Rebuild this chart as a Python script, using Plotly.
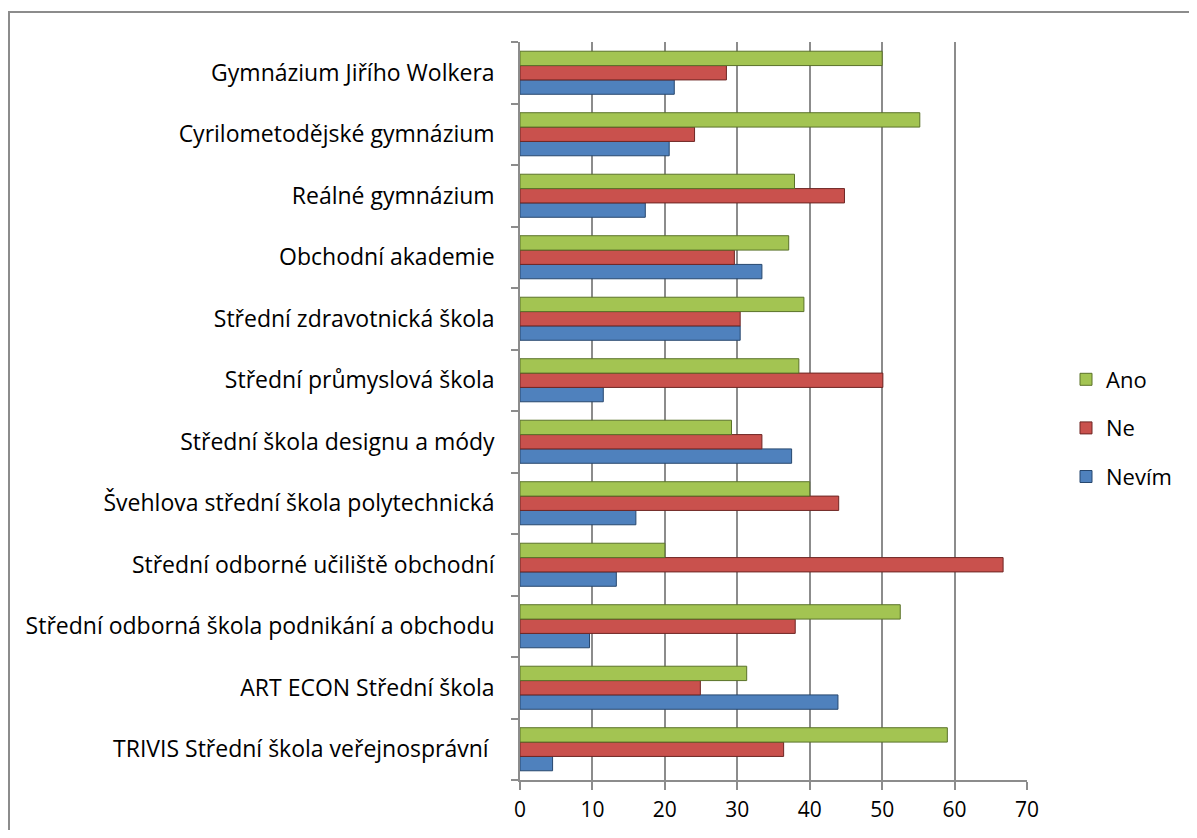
import plotly.graph_objects as go

# categories, top to bottom as in the chart
schools = [
    "Gymnázium Jiřího Wolkera",
    "Cyrilometodějské gymnázium",
    "Reálné gymnázium",
    "Obchodní akademie",
    "Střední zdravotnická škola",
    "Střední průmyslová škola",
    "Střední škola designu a módy",
    "Švehlova střední škola polytechnická",
    "Střední odborné učiliště obchodní",
    "Střední odborná škola podnikání a obchodu",
    "ART ECON Střední škola",
    "TRIVIS Střední škola veřejnosprávní ",
]
ano = [50.0, 55.2, 37.9, 37.1, 39.2, 38.5, 29.2, 40.0, 20.0, 52.5, 31.3, 59.0]
ne = [28.5, 24.1, 44.8, 29.6, 30.4, 50.1, 33.4, 44.0, 66.7, 38.0, 24.9, 36.4]
nevim = [21.3, 20.6, 17.3, 33.4, 30.4, 11.5, 37.5, 16.0, 13.3, 9.6, 43.9, 4.5]
x_ticks = [0, 10, 20, 30, 40, 50, 60, 70]

font = "Open Sans, Liberation Sans, sans-serif"

series = [
    ("Nevím", nevim, "#4F81BD", "#27476E", 3),
    ("Ne", ne, "#C9514D", "#6E2624", 2),
    ("Ano", ano, "#A3C452", "#5A7229", 1),
]

fig = go.Figure()
for name, vals, color, edge, rank in series:
    fig.add_trace(
        go.Bar(
            y=schools[::-1],
            x=vals[::-1],
            name=name,
            orientation="h",
            legendgroup=name,
            legendrank=rank,
            marker=dict(color=color, line=dict(color=edge, width=1)),
        )
    )

# the page body adds an 8px offset, so the figure is a bit smaller
W, H = 1181, 822
L, R, T, B = 512, 162, 34, 50
pw, ph = W - L - R, H - T - B


def px_x(p):
    return (p - L) / pw


def px_y(p):
    return (H - B - p) / ph


fig.update_layout(
    width=W,
    height=H,
    margin=dict(l=L, r=R, t=T, b=B, autoexpand=False),
    paper_bgcolor="white",
    plot_bgcolor="white",
    barmode="group",
    bargap=0.30,
    bargroupgap=0,
    font=dict(family=font, size=18, color="#000000"),
    legend=dict(
        traceorder="grouped",
        tracegroupgap=17,
        x=px_x(1058),
        y=px_y(420),
        xanchor="left",
        yanchor="middle",
        font=dict(size=22),
        itemwidth=30,
    ),
    xaxis=dict(
        range=[0, 70],
        tickvals=x_ticks,
        automargin=False,
        showgrid=True,
        gridcolor="#8C8C8C",
        gridwidth=1.5,
        zeroline=False,
        showline=True,
        linecolor="#8C8C8C",
        linewidth=1.5,
        ticks="outside",
        ticklen=8,
        tickcolor="#8C8C8C",
        tickwidth=1.5,
        ticklabelstandoff=2,
        tickfont=dict(size=21),
    ),
    yaxis=dict(
        type="category",
        tickson="boundaries",
        automargin=False,
        showgrid=False,
        showline=True,
        linecolor="#8C8C8C",
        linewidth=1.5,
        ticks="outside",
        ticklen=7,
        tickcolor="#8C8C8C",
        tickwidth=1.5,
        ticklabelstandoff=19,
        tickfont=dict(size=23),
    ),
    shapes=[
        dict(
            type="rect",
            xref="paper",
            yref="paper",
            x0=px_x(1),
            x1=px_x(1230),
            y0=px_y(860),
            y1=px_y(4),
            line=dict(color="#8C8C8C", width=2),
            fillcolor="rgba(0,0,0,0)",
            layer="below",
        )
    ],
)

fig.write_html("out.html")
